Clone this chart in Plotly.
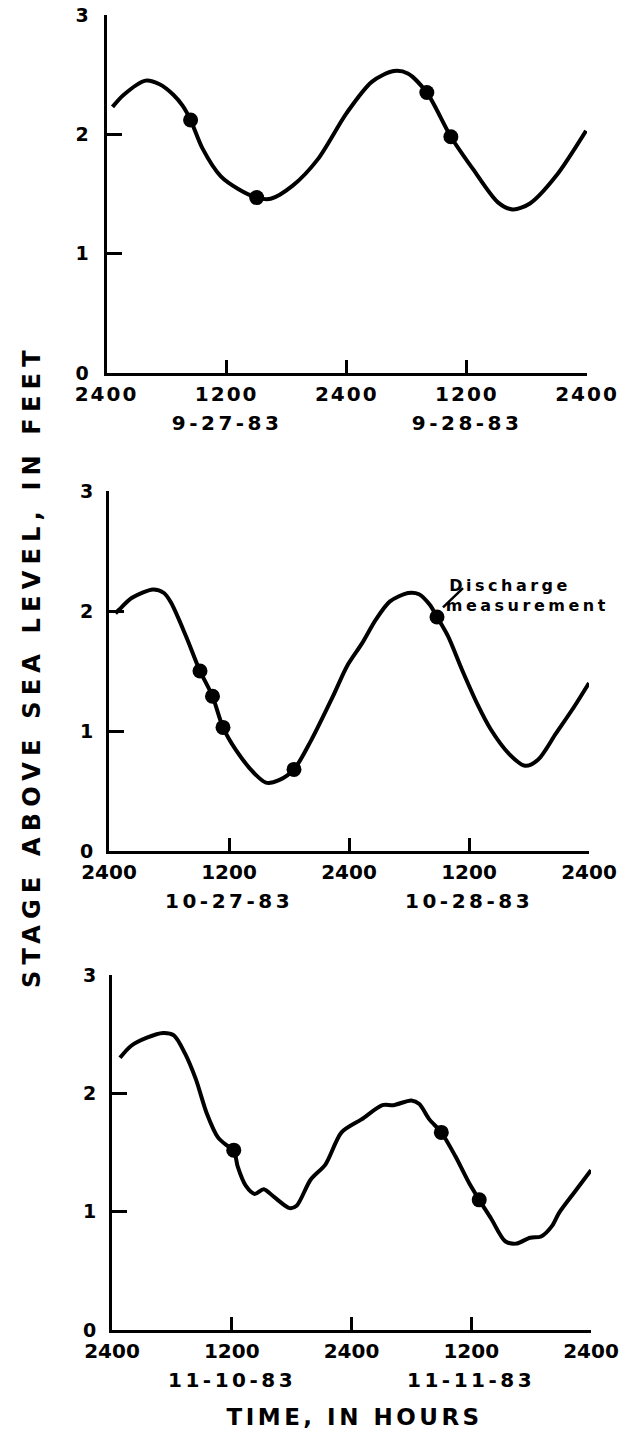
import json
import plotly.graph_objects as go

# Axis ticks shared by all three panels (hours from start of first day)
HOUR_TICKS = [0, 12, 24, 36, 48]
HOUR_LABELS = ["2400", "1200", "2400", "1200", "2400"]
STAGE_TICKS = [0, 1, 2, 3]
STAGE_LABELS = ["0", "1", "2", "3"]

# Panel 1: 9-27-83 and 9-28-83
p1_dates = ["9-27-83", "9-28-83"]
p1_hours = [0.6, 1.7, 3.9, 5.3, 6.7, 7.6, 8.4, 9.6, 11.4, 13.2, 15.0, 16.4, 18.6,
            21.1, 24.0, 26.5, 28.7, 30.1, 32.0, 34.4, 36.6, 39.1, 40.6, 42.3, 44.9, 47.9]
p1_stage = [2.23, 2.33, 2.45, 2.42, 2.33, 2.24, 2.12, 1.88, 1.65, 1.54, 1.47, 1.46, 1.57,
            1.79, 2.18, 2.44, 2.53, 2.51, 2.35, 1.98, 1.71, 1.43, 1.37, 1.42, 1.65, 2.03]
p1_meas_hours = [8.4, 15.0, 32.0, 34.4]
p1_meas_stage = [2.12, 1.47, 2.35, 1.98]

# Panel 2: 10-27-83 and 10-28-83
p2_dates = ["10-27-83", "10-28-83"]
p2_hours = [0.65, 1.0, 2.3, 4.4, 5.5, 6.2, 7.7, 9.1, 10.35, 11.4, 12.7, 14.5, 15.7, 17.0,
            18.5, 20.2, 22.4, 23.8, 25.3, 26.7, 28.1, 29.9, 31.0, 32.1, 32.8, 33.9, 35.3,
            36.8, 38.2, 40.0, 41.6, 42.9, 44.7, 46.5, 48.0]
p2_stage = [1.98, 2.01, 2.11, 2.18, 2.15, 2.07, 1.79, 1.50, 1.29, 1.03, 0.84, 0.65, 0.57, 0.59,
            0.68, 0.92, 1.29, 1.54, 1.73, 1.93, 2.08, 2.15, 2.14, 2.05, 1.95, 1.79, 1.51,
            1.23, 1.01, 0.81, 0.71, 0.76, 0.98, 1.20, 1.40]
p2_meas_hours = [9.1, 10.35, 11.4, 18.5, 32.8]
p2_meas_stage = [1.50, 1.29, 1.03, 0.68, 1.95]

# Panel 3: 11-10-83 and 11-11-83
p3_dates = ["11-10-83", "11-11-83"]
p3_hours = [0.8, 1.9, 3.5, 5.1, 6.2, 7.3, 8.4, 9.5, 10.6, 11.5, 12.2, 12.6, 13.4, 14.3, 15.2,
            16.3, 17.8, 18.5, 19.9, 21.4, 23.0, 25.0, 27.1, 28.2, 30.0, 30.8, 31.8, 33.0,
            34.4, 35.8, 36.8, 38.0, 39.4, 40.5, 41.9, 43.0, 44.1, 44.8, 46.3, 48.0]
p3_stage = [2.30, 2.40, 2.47, 2.51, 2.49, 2.34, 2.12, 1.83, 1.63, 1.56, 1.52, 1.38, 1.22, 1.15,
            1.19, 1.12, 1.03, 1.05, 1.27, 1.40, 1.67, 1.78, 1.90, 1.90, 1.94, 1.91, 1.78, 1.67,
            1.47, 1.24, 1.10, 0.94, 0.75, 0.73, 0.78, 0.79, 0.88, 0.99, 1.16, 1.35]
p3_meas_hours = [12.2, 33.0, 36.8]
p3_meas_stage = [1.52, 1.67, 1.10]

Y_TITLE = "STAGE ABOVE SEA LEVEL, IN FEET"
X_TITLE = "TIME, IN HOURS"
NOTE_LINES = ["Discharge", "measurement"]

FONT = "DejaVu Sans"
W, H = 625, 1431

# panel placement in pixels: (left, right, top, bottom)
panels = [
    (106.5, 587, 15, 373),
    (109, 589, 491, 851),
    (112, 591, 975, 1330),
]
series = [
    (p1_hours, p1_stage, p1_meas_hours, p1_meas_stage, p1_dates),
    (p2_hours, p2_stage, p2_meas_hours, p2_meas_stage, p2_dates),
    (p3_hours, p3_stage, p3_meas_hours, p3_meas_stage, p3_dates),
]


def bold(size):
    return dict(family=FONT, size=size, color="black", weight="bold")


fig = go.Figure()
layout = dict(
    width=W, height=H,
    margin=dict(l=0, r=0, t=0, b=0, autoexpand=False),
    paper_bgcolor="white", plot_bgcolor="white",
    showlegend=False,
    font=bold(16),
)
annotations = []
shapes = []

for i, ((left, right, top, bottom), (hx, sy, mx, my, dates)) in enumerate(zip(panels, series)):
    n = "" if i == 0 else str(i + 1)
    xa, ya = "x" + n, "y" + n
    fig.add_trace(go.Scatter(
        x=hx, y=sy, xaxis=xa, yaxis=ya, mode="lines",
        line=dict(color="black", width=4, shape="spline", smoothing=0.8),
        hoverinfo="skip", cliponaxis=False))
    fig.add_trace(go.Scatter(
        x=mx, y=my, xaxis=xa, yaxis=ya, mode="markers",
        marker=dict(color="black", size=15), hoverinfo="skip"))
    layout["xaxis" + n] = dict(
        domain=[left / W, right / W], range=[0, 48], anchor=ya,
        showgrid=False, zeroline=False, showline=True, linecolor="black", linewidth=3,
        ticks="inside", ticklen=13, tickwidth=3, tickcolor="black",
        tickvals=HOUR_TICKS, ticktext=HOUR_LABELS, ticklabelstandoff=1,
        tickfont=bold(20),
    )
    layout["yaxis" + n] = dict(
        domain=[1 - bottom / H, 1 - top / H], range=[0, 3], anchor=xa,
        showgrid=False, zeroline=False, showline=True, linecolor="black", linewidth=3,
        ticks="inside", ticklen=15, tickwidth=3, tickcolor="black",
        tickvals=STAGE_TICKS, ticktext=STAGE_LABELS, ticklabelstandoff=9,
        tickfont=bold(19),
    )
    for hour, label in zip([12, 36], dates):
        annotations.append(dict(
            x=hour, y=0, xref=xa, yref=ya + " domain", text=label, showarrow=False,
            yanchor="middle", yshift=-50, font=bold(20)))

# label for the discharge measurement on the second panel
annotations.append(dict(
    x=35.5, y=2.215, xref="x2", yref="y2", text=NOTE_LINES[0], showarrow=False,
    xanchor="left", yanchor="middle", borderpad=0, font=bold(16)))
annotations.append(dict(
    x=35.5, y=2.045, xref="x2", yref="y2", text=NOTE_LINES[1], showarrow=False,
    xanchor="left", yanchor="middle", borderpad=0, font=bold(16)))
shapes.append(dict(type="line", xref="x2", yref="y2", x0=33.4, y0=2.03, x1=35.4, y1=2.19,
                   line=dict(color="black", width=2.5)))

annotations.append(dict(
    x=32 / W, y=1 - 666 / H, xref="paper", yref="paper", text=Y_TITLE, textangle=-90,
    showarrow=False, xanchor="center", yanchor="middle", font=bold(24)))
annotations.append(dict(
    x=355 / W, y=1 - 1417 / H, xref="paper", yref="paper", text=X_TITLE,
    showarrow=False, xanchor="center", yanchor="middle", font=bold(23)))

layout["annotations"] = annotations
layout["shapes"] = shapes
fig.update_layout(**layout)

# letter tracking for the wide-set lettering
tracking = {
    "ticks": "2px",
    "dates": "3.5px",
    NOTE_LINES[0]: "3.5px",
    NOTE_LINES[1]: "3.5px",
    X_TITLE: "3.5px",
    Y_TITLE: "6.2px",
}
dates_all = p1_dates + p2_dates + p3_dates
post = """
var gd = document.getElementById('{plot_id}');
var tr = %s, dates = %s;
function applyTracking() {
  gd.querySelectorAll('.xtick text, .ytick text').forEach(function (t) {
    t.style.letterSpacing = tr.ticks;
  });
  gd.querySelectorAll('.annotation-text').forEach(function (t) {
    var s = t.textContent;
    if (dates.indexOf(s) >= 0) { t.style.letterSpacing = tr.dates; }
    else if (tr[s]) { t.style.letterSpacing = tr[s]; }
  });
}
applyTracking();
gd.on('plotly_afterplot', applyTracking);
""" % (json.dumps(tracking), json.dumps(dates_all))

fig.write_html("out.html", post_script=post)
